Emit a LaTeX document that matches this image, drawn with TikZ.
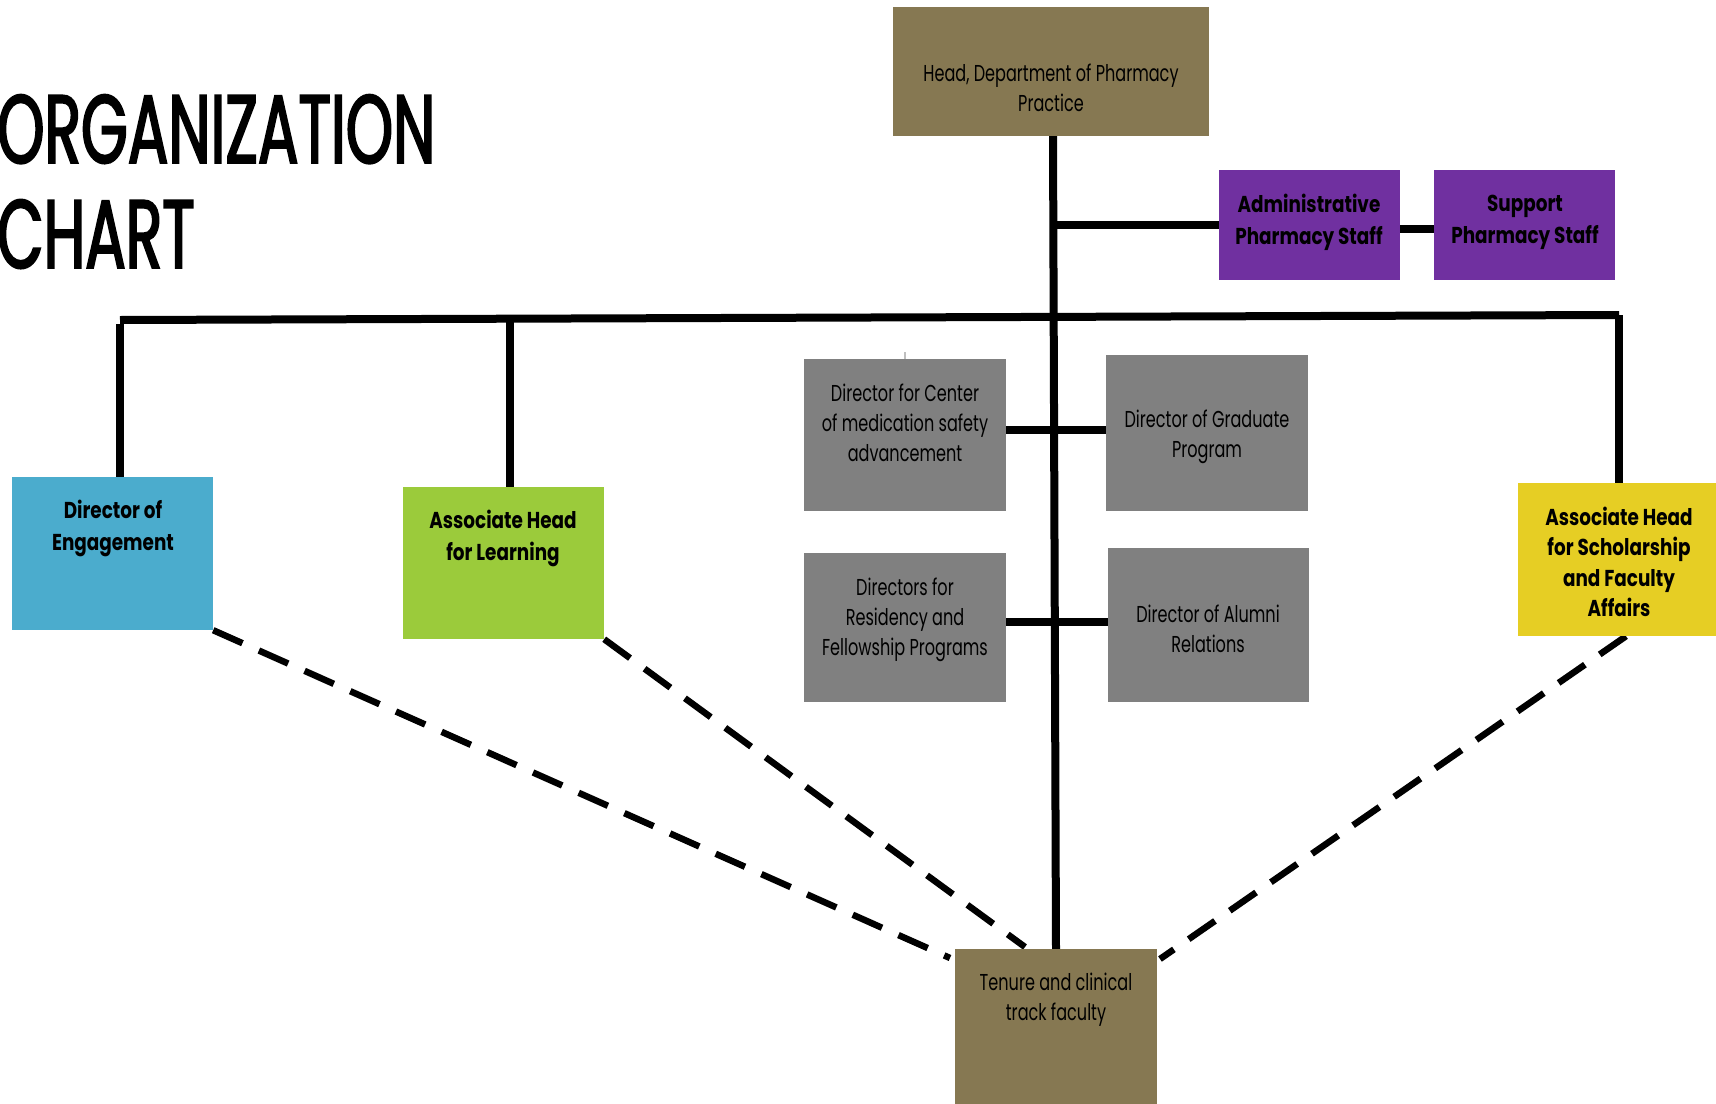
\documentclass[tikz,border=0pt]{standalone}
\usepackage{fontspec}
\setmainfont{Poppins}[FakeStretch=0.7]
\newfontfamily\bfam{Poppins}[FakeStretch=0.8]
\newfontfamily\titlefont{Poppins}[FakeStretch=0.62, FakeBold=2]
\usetikzlibrary{backgrounds}
\definecolor{olivebox}{RGB}{134,120,82}
\definecolor{purplebox}{RGB}{112,48,160}
\definecolor{bluebox}{RGB}{75,172,205}
\definecolor{greenbox}{RGB}{155,203,59}
\definecolor{yellowbox}{RGB}{230,206,36}
\definecolor{graybox}{RGB}{128,128,128}
\tikzset{
  orgbox/.style={draw=none, inner sep=0pt, rectangle},
  plaintxt/.style={align=center, inner sep=0pt, font=\fontsize{23}{30}\selectfont},
  boldtxt/.style={align=center, inner sep=0pt, font=\bfam\bfseries\fontsize{23}{32}\selectfont},
  solidline/.style={line width=8pt, black},
  dashline/.style={line width=6.5pt, black, dash pattern=on 32pt off 18pt},
}
\begin{document}
\begin{tikzpicture}[x=1pt,y=-1pt]
\useasboundingbox (0,0) rectangle (1716,1103);
% title
\node[anchor=base west, inner sep=0pt, font=\titlefont\fontsize{97}{105}\selectfont] (t1) at (-3,163) {ORGANIZATION};
\node[anchor=base west, inner sep=0pt, font=\titlefont\fontsize{97}{105}\selectfont] (t2) at (-3,268) {CHART};
% boxes
\node[orgbox, fill=olivebox, minimum width=316pt, minimum height=129pt] (head) at (1051,71.5) {};
\node[orgbox, fill=purplebox, minimum width=181pt, minimum height=110pt] (admin) at (1309.5,225) {};
\node[orgbox, fill=purplebox, minimum width=181pt, minimum height=110pt] (support) at (1524.5,225) {};
\node[orgbox, fill=bluebox, minimum width=201pt, minimum height=153pt] (eng) at (112.5,553.5) {};
\node[orgbox, fill=greenbox, minimum width=201pt, minimum height=152pt] (learn) at (503.5,563) {};
\node[orgbox, fill=yellowbox, minimum width=202pt, minimum height=153pt] (schol) at (1619,559.5) {};
\node[orgbox, fill=graybox, minimum width=202pt, minimum height=152pt] (center) at (905,435) {};
\node[orgbox, fill=graybox, minimum width=202pt, minimum height=156pt] (grad) at (1207,433) {};
\node[orgbox, fill=graybox, minimum width=202pt, minimum height=149pt] (resid) at (905,627.5) {};
\node[orgbox, fill=graybox, minimum width=201pt, minimum height=154pt] (alum) at (1208.5,625) {};
\node[orgbox, fill=olivebox, minimum width=202pt, minimum height=160pt] (tenure) at (1056,1029) {};
% texts
\node[plaintxt] (headtxt) at (1051,88) {Head, Department of Pharmacy\\Practice};
\node[boldtxt] (admintxt) at (1309,222) {Administrative\\Pharmacy Staff};
\node[boldtxt] (supporttxt) at (1525,222) {Support\\Pharmacy Staff};
\node[boldtxt] (engtxt) at (113,528) {Director of\\Engagement};
\node[boldtxt] (learntxt) at (503,538) {Associate Head\\for Learning};
\node[boldtxt, font=\bfam\bfseries\fontsize{23}{30.5}\selectfont] (scholtxt) at (1619,562) {Associate Head\\for Scholarship\\and Faculty\\Affairs};
\node[plaintxt] (centertxt) at (905,423) {Director for Center\\of medication safety\\advancement};
\node[plaintxt] (gradtxt) at (1207,437) {Director of Graduate\\Program};
\node[plaintxt] (residtxt) at (905,620) {Directors for\\Residency and\\Fellowship Programs};
\node[plaintxt] (alumtxt) at (1208,629) {Director of Alumni\\Relations};
\node[plaintxt] (tenuretxt) at (1056,1000) {Tenure and clinical\\track faculty};
% connectors
\begin{pgfonlayer}{background}
\coordinate (barL) at (120,320);
\coordinate (barR) at (1619,315);
\coordinate (barM) at (510,319);
\coordinate (trunkA) at (1054,225);
\draw[solidline] ([xshift=2pt]head.south) -- (tenure.north);
\draw[solidline] (trunkA) -- (admin.west);
\draw[solidline] (admin.east |- 0,229) -- (support.west |- 0,229);
\draw[solidline] (barL) -- (barR);
\draw[solidline] ([yshift=-4pt]barL) -- (eng.north -| barL);
\draw[solidline] (barM) -- (learn.north -| barM);
\draw[solidline] (barR) -- (schol.north -| barR);
\draw[solidline] (center.east |- 0,430) -- (grad.west |- 0,430);
\draw[solidline] (resid.east |- 0,622) -- (alum.west |- 0,622);
\coordinate (dashA) at (950,958);
\coordinate (dashB) at (1025,947);
\coordinate (dashC) at (1160,959);
\draw[dashline] (eng.south east) -- (dashA);
\draw[dashline] (learn.south east) -- (dashB);
\draw[dashline] ([xshift=7pt]schol.south) -- (dashC);
\draw[black!25, line width=1.5pt] (center.north) -- ++(0,-7);
\end{pgfonlayer}
\end{tikzpicture}
\end{document}
